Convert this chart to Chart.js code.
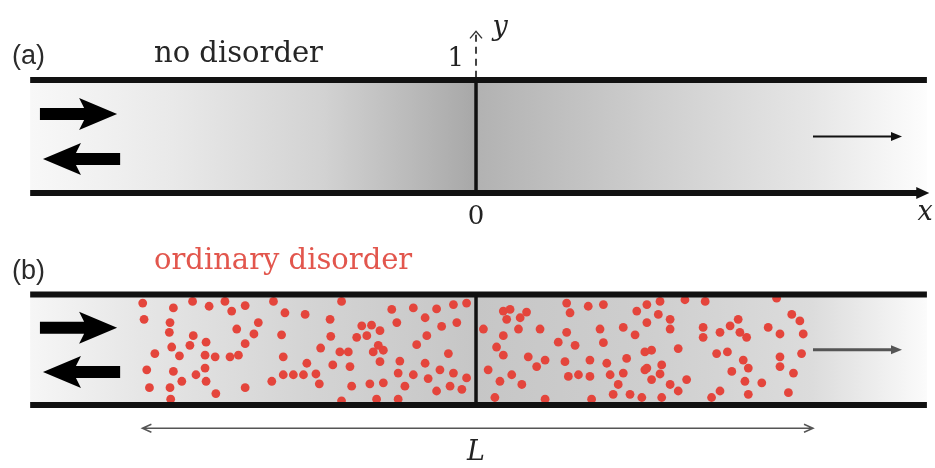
<!DOCTYPE html>
<html>
<head>
<meta charset="utf-8">
<script src="https://cdn.jsdelivr.net/npm/chart.js@4.4.1/dist/chart.umd.min.js"></script>
<style>
  html, body { margin: 0; padding: 0; background: #fff; }
  #wrap { position: relative; width: 935px; height: 468px; }
  canvas { position: absolute; left: 0; }
</style>
</head>
<body>
<div id="wrap">
  <canvas id="panelA" width="935" height="234" style="top:0"></canvas>
  <canvas id="panelB" width="935" height="234" style="top:234px"></canvas>
</div>
<script>
// text of the two panels
const panelLabels = ['(a)', '(b)'];
const panelTitles = ['no disorder', 'ordinary disorder'];
const tickLabels = ['0', '1'];
const axisNames = ['x', 'y'];
const lengthLabel = 'L';

// waveguide runs between these x values (disorder slab is -1..1, i.e. length L = 2)
const wallX = [-1.323, 1.338];

// scatterers in panel (b), x in units of L/2, y across the guide 0..1
const dotX = [
	-0.989, -0.898, -0.841, -0.792, -0.745, -0.725, -0.685, -0.601, -0.567, -0.507,
	-0.985, -0.908, -0.910, -0.839, -0.801, -0.849, -0.903, -0.710, -0.646, -0.659,
	-0.685, -0.577, -0.953, -0.880, -0.804, -0.774, -0.730, -0.705, -0.572, -0.502,
	-0.977, -0.898, -0.804, -0.831, -0.801, -0.873, -0.572, -0.542, -0.512, -0.606,
	-0.969, -0.908, -0.685, -0.772, -0.906,
	-0.399, -0.433, -0.250, -0.186, -0.117, -0.067, -0.028, -0.151, -0.235, -0.339,
	-0.310, -0.285, -0.102, -0.057, -0.431, -0.354, -0.324, -0.146, -0.290, -0.176,
	-0.461, -0.404, -0.379, -0.305, -0.275, -0.082, -0.285, -0.425, -0.374, -0.226,
	-0.151, -0.475, -0.231, -0.186, -0.142, -0.107, -0.067, -0.028, -0.465, -0.369,
	-0.315, -0.275, -0.211, -0.117, -0.077, -0.042, -0.399, -0.295, -0.231,
	0.022, 0.081, 0.101, 0.131, 0.150, 0.091, 0.126, 0.081, 0.190, 0.269,
	0.279, 0.333, 0.378, 0.477, 0.507, 0.269, 0.368, 0.437, 0.472, 0.507,
	0.244, 0.294, 0.378, 0.061, 0.081, 0.155, 0.205, 0.180, 0.264, 0.338,
	0.388, 0.447, 0.501, 0.036, 0.106, 0.071, 0.136, 0.274, 0.304, 0.338,
	0.398, 0.437, 0.422, 0.501, 0.056, 0.205, 0.343, 0.407, 0.457, 0.492,
	0.546, 0.620, 0.680, 0.892, 0.541, 0.576, 0.576, 0.674, 0.674, 0.724,
	0.754, 0.778, 0.783, 0.803, 0.867, 0.902, 0.937, 0.961, 0.971, 0.521,
	0.600, 0.714, 0.746, 0.793, 0.808, 0.759, 0.902, 0.902, 0.966, 0.942,
	0.507, 0.551, 0.546, 0.521, 0.576, 0.625, 0.600, 0.724, 0.699, 0.798,
	0.848, 0.808, 0.927, 0.551
];
const dotY = [
	0.923, 0.879, 0.938, 0.894, 0.938, 0.850, 0.900, 0.938, 0.835, 0.820,
	0.776, 0.746, 0.658, 0.628, 0.569, 0.540, 0.525, 0.688, 0.746, 0.643,
	0.555, 0.635, 0.466, 0.445, 0.451, 0.436, 0.436, 0.451, 0.436, 0.378,
	0.319, 0.304, 0.334, 0.274, 0.215, 0.215, 0.274, 0.274, 0.274, 0.215,
	0.157, 0.157, 0.157, 0.104, 0.053,
	0.938, 0.776, 0.865, 0.879, 0.870, 0.909, 0.923, 0.790, 0.746, 0.717,
	0.723, 0.673, 0.711, 0.746, 0.622, 0.613, 0.628, 0.628, 0.540, 0.546,
	0.516, 0.481, 0.481, 0.481, 0.496, 0.466, 0.392, 0.363, 0.348, 0.398,
	0.378, 0.281, 0.289, 0.274, 0.239, 0.319, 0.289, 0.245, 0.192, 0.171,
	0.192, 0.201, 0.171, 0.127, 0.171, 0.142, 0.038, 0.053, 0.053,
	0.688, 0.850, 0.865, 0.790, 0.841, 0.776, 0.688, 0.628, 0.688, 0.923,
	0.835, 0.894, 0.909, 0.850, 0.909, 0.658, 0.688, 0.702, 0.635, 0.746,
	0.569, 0.540, 0.564, 0.525, 0.451, 0.436, 0.407, 0.348, 0.392, 0.407,
	0.378, 0.422, 0.481, 0.319, 0.274, 0.215, 0.186, 0.259, 0.274, 0.259,
	0.274, 0.289, 0.186, 0.319, 0.068, 0.053, 0.053, 0.097, 0.097, 0.068,
	0.938, 0.953, 0.938, 0.967, 0.820, 0.776, 0.688, 0.702, 0.613, 0.658,
	0.717, 0.776, 0.658, 0.613, 0.702, 0.643, 0.820, 0.761, 0.643, 0.496,
	0.511, 0.466, 0.481, 0.407, 0.334, 0.304, 0.436, 0.348, 0.466, 0.289,
	0.334, 0.363, 0.281, 0.230, 0.186, 0.230, 0.127, 0.127, 0.068, 0.215,
	0.201, 0.097, 0.112, 0.068
];

function seg(x0, y0, x1, y1, width, extra) {
	return Object.assign({
		type: 'line',
		data: [{ x: x0, y: y0 }, { x: x1, y: y1 }],
		borderColor: '#111',
		borderWidth: width,
		pointRadius: 0,
		borderCapStyle: 'butt',
		order: 0,
	}, extra || {});
}

// gray intensity inside the guide
function guideFill(stops) {
	return {
		id: 'guideFill',
		beforeDatasetsDraw(chart) {
			const { ctx, scales: { x, y } } = chart;
			const x0 = x.getPixelForValue(wallX[0]);
			const x1 = x.getPixelForValue(wallX[1]);
			const yt = y.getPixelForValue(1);
			const yb = y.getPixelForValue(0);
			const g = ctx.createLinearGradient(x0, 0, x1, 0);
			stops.forEach(([v, c]) => {
				const t = (x.getPixelForValue(v) - x0) / (x1 - x0);
				g.addColorStop(Math.min(1, Math.max(0, t)), c);
			});
			ctx.save();
			ctx.fillStyle = g;
			ctx.fillRect(x0, yt, x1 - x0, yb - yt);
			ctx.restore();
		},
	};
}

function thickArrow(ctx, xTail, xTip, yc) {
	const dir = Math.sign(xTip - xTail);
	const xb = xTip - dir * 38;
	ctx.beginPath();
	ctx.moveTo(xTail, yc - 6);
	ctx.lineTo(xb + dir * 5, yc - 6);
	ctx.quadraticCurveTo(xb + dir * 3, yc - 10, xb, yc - 16);
	ctx.lineTo(xTip, yc);
	ctx.lineTo(xb, yc + 16);
	ctx.quadraticCurveTo(xb + dir * 3, yc + 10, xb + dir * 5, yc + 6);
	ctx.lineTo(xTail, yc + 6);
	ctx.closePath();
	ctx.fill();
}

function thinArrow(ctx, x0, x1, yc, color, width) {
	ctx.strokeStyle = color;
	ctx.fillStyle = color;
	ctx.lineWidth = width;
	ctx.beginPath();
	ctx.moveTo(x0, yc);
	ctx.lineTo(x1 - 8, yc);
	ctx.stroke();
	ctx.beginPath();
	ctx.moveTo(x1, yc);
	ctx.lineTo(x1 - 11, yc - 4.5);
	ctx.lineTo(x1 - 11, yc + 4.5);
	ctx.closePath();
	ctx.fill();
}

function annotate(panel) {
	return {
		id: 'annotate',
		afterDatasetsDraw(chart) {
			const { ctx, scales: { x, y } } = chart;
			const px = (v) => x.getPixelForValue(v);
			const py = (v) => y.getPixelForValue(v);
			ctx.save();

			ctx.fillStyle = '#2b2b2b';
			ctx.font = '27px "Liberation Sans"';
			ctx.textAlign = 'left';
			ctx.textBaseline = 'alphabetic';
			ctx.fillText(panelLabels[panel], 12, py(1) - 16);

			ctx.font = '29px "DejaVu Serif"';
			ctx.fillStyle = panel === 0 ? '#262626' : '#e2564d';
			ctx.fillText(panelTitles[panel], 154, py(1) - 18 - panel * 8);

			// incoming / reflected and transmitted waves
			ctx.fillStyle = '#000';
			thickArrow(ctx, px(-1.294), px(-1.065), py(0.7));
			thickArrow(ctx, px(-1.056), px(-1.285), py(0.3));
			if (panel === 0) {
				thinArrow(ctx, px(1.0), px(1.264), py(0.5), '#111', 1.8);
			} else {
				thinArrow(ctx, px(1.0), px(1.264), py(0.5), '#555', 3);
			}

			if (panel === 0) {
				// x axis head on the lower wall
				ctx.beginPath();
				ctx.moveTo(px(1.345), py(0));
				ctx.lineTo(px(1.345) - 13, py(0) - 6);
				ctx.lineTo(px(1.345) - 13, py(0) + 6);
				ctx.closePath();
				ctx.fill();
				// y axis head
				ctx.strokeStyle = '#333';
				ctx.lineWidth = 1.4;
				ctx.beginPath();
				ctx.moveTo(px(0) - 6, py(1.43) + 7);
				ctx.lineTo(px(0), py(1.43));
				ctx.lineTo(px(0) + 6, py(1.43) + 7);
				ctx.stroke();

				ctx.fillStyle = '#222';
				ctx.font = '26px "DejaVu Serif"';
				ctx.textAlign = 'center';
				ctx.textBaseline = 'middle';
				ctx.fillText(tickLabels[0], px(0), py(0) + 24);
				ctx.textAlign = 'right';
				ctx.fillText(tickLabels[1], px(0) - 12, py(1) - 21);
				ctx.font = 'italic 27px "DejaVu Serif"';
				ctx.textAlign = 'center';
				ctx.fillText(axisNames[0], 925, py(0) + 20);
				ctx.fillText(axisNames[1], px(0) + 24, py(1.46));
			} else {
				// length of the disordered region
				const yl = py(-0.21);
				ctx.strokeStyle = '#555';
				ctx.lineWidth = 1.5;
				ctx.beginPath();
				ctx.moveTo(px(-0.99), yl);
				ctx.lineTo(px(1.0), yl);
				ctx.moveTo(px(-0.99) + 9, yl - 4);
				ctx.lineTo(px(-0.99), yl);
				ctx.lineTo(px(-0.99) + 9, yl + 4);
				ctx.moveTo(px(1.0) - 9, yl - 4);
				ctx.lineTo(px(1.0), yl);
				ctx.lineTo(px(1.0) - 9, yl + 4);
				ctx.stroke();
				ctx.fillStyle = '#222';
				ctx.font = 'italic 27px "DejaVu Serif"';
				ctx.textAlign = 'center';
				ctx.textBaseline = 'middle';
				ctx.fillText(lengthLabel, px(0), yl + 25);
			}
			ctx.restore();
		},
	};
}

function makeChart(id, panel, yMin, yMax, datasets, stops) {
	return new Chart(document.getElementById(id), {
		type: 'scatter',
		data: { datasets: datasets },
		options: {
			responsive: false,
			animation: false,
			events: [],
			layout: { padding: 0, autoPadding: false },
			plugins: { legend: { display: false }, tooltip: { enabled: false } },
			scales: {
				x: { type: 'linear', display: false, min: -1.4125, max: 1.362 },
				y: { type: 'linear', display: false, min: yMin, max: yMax },
			},
		},
		plugins: [guideFill(stops), annotate(panel)],
	});
}

makeChart('panelA', 0, -0.363, 1.708, [
	seg(wallX[0], 1, wallX[1], 1, 6),
	seg(wallX[0], 0, 1.32, 0, 6),
	seg(0, 0, 0, 1, 3.5),
	seg(0, 1.02, 0, 1.42, 2, { borderDash: [7, 5], borderColor: '#444' }),
], [
	[-1.323, '#f8f8f8'], [-0.9, '#e9e9e9'], [-0.45, '#d2d2d2'], [-0.003, '#a8a8a8'],
	[0.003, '#b2b2b2'], [0.5, '#cdcdcd'], [1.0, '#e6e6e6'], [1.338, '#fdfdfd'],
]);

makeChart('panelB', 1, -0.570, 1.548, [
	seg(wallX[0], 1, wallX[1], 1, 6),
	seg(wallX[0], 0, wallX[1], 0, 6),
	seg(0, 0, 0, 1, 3.5),
	{
		type: 'scatter',
		data: dotX.map((v, i) => ({ x: v, y: dotY[i] })),
		backgroundColor: '#e4453c',
		borderWidth: 0,
		pointRadius: 4.4,
		order: 2,
	},
], [
	[-1.323, '#f6f6f6'], [-1.0, '#e6e6e6'], [-0.5, '#d4d4d4'], [0, '#c6c6c6'],
	[0.5, '#cecece'], [1.0, '#dcdcdc'], [1.338, '#fbfbfb'],
]);
</script>
</body>
</html>
